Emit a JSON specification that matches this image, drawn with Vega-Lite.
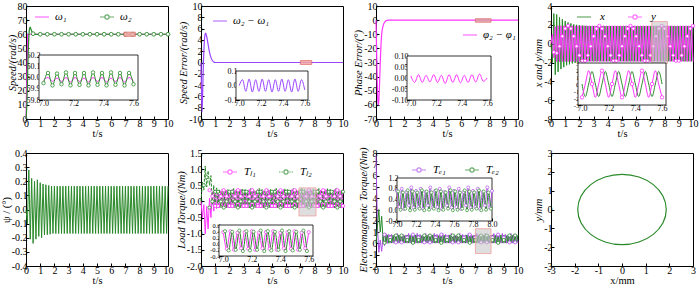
{
"$schema": "https://vega.github.io/schema/vega-lite/v6.json",
"background": "white",
"padding": {"left": 0, "top": 0, "right": 0, "bottom": 0},
"columns": 4,
"spacing": {"row": 34, "column": 33},
"bounds": "flush",
"resolve": {"scale": {"color": "independent", "shape": "independent"}},
"datasets": {
"hl": [{"p":1,"x0":6.9,"x1":7.7,"y0":58.5,"y1":61.5},{"p":2,"x0":7,"x1":7.8,"y0":-0.35,"y1":0.35},{"p":3,"x0":7,"x1":8.1,"y0":-1.5,"y1":1},{"p":4,"x0":7.1,"x1":8.2,"y0":-2.1,"y1":2.35},{"p":6,"x0":6.9,"x1":8.1,"y0":-0.45,"y1":0.42},{"p":7,"x0":7,"x1":8.1,"y0":-0.9,"y1":1.3}],
"fr": [{"p":1,"x0":6.97,"x1":7.63,"y0":59.8,"y1":60.2},{"p":2,"x0":6.97,"x1":7.63,"y0":-0.1,"y1":0.1},{"p":3,"x0":6.97,"x1":7.63,"y0":-0.1,"y1":0.1},{"p":4,"x0":6.97,"x1":7.63,"y0":-3,"y1":3},{"p":6,"x0":6.97,"x1":7.63,"y0":-0.4,"y1":0.6},{"p":7,"x0":7,"x1":8,"y0":-0.4,"y1":1.2}],
"p1a": [{"t":0,"v":0},{"t":0.12,"v":60},{"t":10,"v":60}],
"p1b": [{"t":0,"v":0},{"t":0.05,"v":8},{"t":0.1,"v":25},{"t":0.15,"v":45},{"t":0.2,"v":58},{"t":0.25,"v":64},{"t":0.3,"v":65},{"t":0.35,"v":63.5},{"t":0.45,"v":61.2},{"t":0.55,"v":60.3},{"t":0.7,"v":59.9},{"t":0.9,"v":60},{"t":10,"v":60}],
"p1m": [{"t":0.5,"v":60.4},{"t":1,"v":60},{"t":1.5,"v":60},{"t":2,"v":60},{"t":2.5,"v":60},{"t":3,"v":60},{"t":3.5,"v":60},{"t":4,"v":60},{"t":4.5,"v":60},{"t":5,"v":60},{"t":5.5,"v":60},{"t":6,"v":60},{"t":6.5,"v":60},{"t":7,"v":60},{"t":7.5,"v":60},{"t":8,"v":60},{"t":8.5,"v":60},{"t":9,"v":60},{"t":9.5,"v":60},{"t":10,"v":60}],
"p2": [{"t":0,"v":0},{"t":0.03,"v":-4},{"t":0.07,"v":-8.8},{"t":0.11,"v":-6},{"t":0.16,"v":-1},{"t":0.22,"v":3},{"t":0.28,"v":4.9},{"t":0.33,"v":5.2},{"t":0.4,"v":4.6},{"t":0.5,"v":3.2},{"t":0.6,"v":1.8},{"t":0.7,"v":0.9},{"t":0.8,"v":0.35},{"t":0.9,"v":0.1},{"t":1,"v":0},{"t":10,"v":0}],
"p3": [{"t":0,"v":0},{"t":0.04,"v":-20},{"t":0.08,"v":-42},{"t":0.12,"v":-55},{"t":0.16,"v":-60},{"t":0.2,"v":-57},{"t":0.25,"v":-45},{"t":0.3,"v":-30},{"t":0.35,"v":-18},{"t":0.4,"v":-10},{"t":0.5,"v":-4},{"t":0.6,"v":-1.5},{"t":0.7,"v":-0.5},{"t":0.85,"v":0},{"t":10,"v":0}],
"S": [
{"t":7.00,"g":59.95,"m":59.975,"e":0,"f":0.01},
{"t":7.03,"g":60.04,"m":60.0,"e":0.04,"f":-0.02},
{"t":7.06,"g":59.93,"m":59.965,"e":-0.04,"f":0.015},
{"t":7.09,"g":60.035,"m":59.995,"e":0.045,"f":-0.02},
{"t":7.12,"g":59.94,"m":59.965,"e":-0.045,"f":0.012},
{"t":7.15,"g":60.045,"m":60.0,"e":0.04,"f":-0.018},
{"t":7.18,"g":59.93,"m":59.96,"e":-0.04,"f":0.015},
{"t":7.21,"g":60.04,"m":60.0,"e":0.045,"f":-0.02},
{"t":7.24,"g":59.935,"m":59.965,"e":-0.04,"f":0.012},
{"t":7.27,"g":60.04,"m":59.995,"e":0.04,"f":-0.025},
{"t":7.30,"g":59.93,"m":59.96,"e":-0.045,"f":0.015},
{"t":7.33,"g":60.045,"m":60.0,"e":0.04,"f":-0.02},
{"t":7.36,"g":59.935,"m":59.965,"e":-0.04,"f":0.015},
{"t":7.39,"g":60.04,"m":60.0,"e":0.045,"f":-0.022},
{"t":7.42,"g":59.93,"m":59.96,"e":-0.04,"f":0.012},
{"t":7.45,"g":60.045,"m":59.995,"e":0.04,"f":-0.02},
{"t":7.48,"g":59.935,"m":59.965,"e":-0.045,"f":0.015},
{"t":7.51,"g":60.04,"m":60.0,"e":0.045,"f":-0.018},
{"t":7.54,"g":59.93,"m":59.96,"e":-0.04,"f":0.018},
{"t":7.57,"g":60.04,"m":60.0,"e":0.04,"f":-0.015},
{"t":7.60,"g":59.94,"m":59.965,"e":-0.03,"f":0}],
"D": [
{"t":0,"x":0,"y":0,"p":0,"a":0,"b":0,"c":7.8,"d":0},
{"t":0.1,"x":-2,"y":1,"p":-0.1,"a":-0.5,"b":0.6,"c":1.5,"d":1.5},
{"t":0.2,"x":3.2,"y":-1.5,"p":0.28,"a":-0.1,"b":0.35,"c":-0.8,"d":3},
{"t":0.3,"x":-3.3,"y":1.8,"p":-0.21,"a":-1,"b":1.1,"c":0.3,"d":1},
{"t":0.4,"x":3.1,"y":-1.9,"p":0.22,"a":-0.15,"b":0.45,"c":-0.7,"d":2.4},
{"t":0.5,"x":-3,"y":1.9,"p":-0.24,"a":-0.85,"b":0.95,"c":0.6,"d":0.2},
{"t":0.6,"x":2.8,"y":-1.9,"p":0.2,"a":0.1,"b":0.5,"c":-0.2,"d":0.9},
{"t":0.7,"x":-2.7,"y":1.9,"p":-0.21,"a":-0.5,"b":0.8,"c":0.85,"d":0.05},
{"t":0.8,"x":2.6,"y":-1.9,"p":0.21,"a":0.3,"b":-0.1,"c":0,"d":0.75},
{"t":0.9,"x":-2.5,"y":1.9,"p":-0.19,"a":-0.3,"b":0.5,"c":0.8,"d":0.02},
{"t":1,"x":2.4,"y":-1.9,"p":0.19,"a":0.36,"b":-0.18,"c":0.02,"d":0.72},
{"t":1.1,"x":-2.3,"y":1.9,"p":-0.2,"a":-0.22,"b":0.42,"c":0.8,"d":0.03},
{"t":1.2,"x":2.25,"y":-1.9,"p":0.18,"a":0.35,"b":-0.2,"c":0.02,"d":0.72},
{"t":1.3,"x":-2.2,"y":1.9,"p":-0.18,"a":-0.2,"b":0.38,"c":0.78,"d":0.03},
{"t":1.4,"x":2.15,"y":-1.9,"p":0.175,"a":0.33,"b":-0.2,"c":0.02,"d":0.68},
{"t":1.5,"x":-2.1,"y":1.9,"p":-0.178,"a":-0.2,"b":0.37,"c":0.88,"d":0.03},
{"t":1.6,"x":2.05,"y":-1.9,"p":0.17,"a":0.37,"b":-0.2,"c":0.02,"d":0.75},
{"t":1.7,"x":-2.05,"y":1.9,"p":-0.175,"a":-0.2,"b":0.34,"c":0.75,"d":0.03},
{"t":1.8,"x":2,"y":-1.9,"p":0.165,"a":0.35,"b":-0.2,"c":0.02,"d":0.72},
{"t":1.9,"x":-2,"y":1.9,"p":-0.17,"a":-0.2,"b":0.37,"c":0.8,"d":0.03},
{"t":2,"x":1.95,"y":-1.9,"p":0.165,"a":0.33,"b":-0.2,"c":0.02,"d":0.68},
{"t":2.1,"x":-1.95,"y":1.9,"p":-0.17,"a":-0.2,"b":0.34,"c":0.75,"d":0.03},
{"t":2.2,"x":1.92,"y":-1.9,"p":0.165,"a":0.37,"b":-0.2,"c":0.02,"d":0.75},
{"t":2.3,"x":-1.92,"y":1.9,"p":-0.17,"a":-0.2,"b":0.4,"c":0.88,"d":0.03},
{"t":2.4,"x":1.9,"y":-1.9,"p":0.165,"a":0.35,"b":-0.2,"c":0.02,"d":0.72},
{"t":2.5,"x":-1.9,"y":1.9,"p":-0.17,"a":-0.2,"b":0.37,"c":0.8,"d":0.03},
{"t":2.6,"x":1.87,"y":-1.9,"p":0.165,"a":0.33,"b":-0.2,"c":0.02,"d":0.68},
{"t":2.7,"x":-1.87,"y":1.9,"p":-0.17,"a":-0.2,"b":0.34,"c":0.75,"d":0.03},
{"t":2.8,"x":1.87,"y":-1.9,"p":0.165,"a":0.37,"b":-0.2,"c":0.02,"d":0.75},
{"t":2.9,"x":-1.87,"y":1.9,"p":-0.17,"a":-0.2,"b":0.4,"c":0.88,"d":0.03},
{"t":3,"x":1.87,"y":-1.9,"p":0.165,"a":0.35,"b":-0.2,"c":0.02,"d":0.72},
{"t":3.1,"x":-1.87,"y":1.9,"p":-0.17,"a":-0.2,"b":0.37,"c":0.8,"d":0.03},
{"t":3.2,"x":1.87,"y":-1.9,"p":0.165,"a":0.33,"b":-0.2,"c":0.02,"d":0.68},
{"t":3.3,"x":-1.87,"y":1.9,"p":-0.17,"a":-0.2,"b":0.34,"c":0.75,"d":0.03},
{"t":3.4,"x":1.87,"y":-1.9,"p":0.165,"a":0.37,"b":-0.2,"c":0.02,"d":0.75},
{"t":3.5,"x":-1.87,"y":1.9,"p":-0.17,"a":-0.2,"b":0.4,"c":0.88,"d":0.03},
{"t":3.6,"x":1.87,"y":-1.9,"p":0.165,"a":0.35,"b":-0.2,"c":0.02,"d":0.72},
{"t":3.7,"x":-1.87,"y":1.9,"p":-0.17,"a":-0.2,"b":0.37,"c":0.8,"d":0.03},
{"t":3.8,"x":1.87,"y":-1.9,"p":0.165,"a":0.33,"b":-0.2,"c":0.02,"d":0.68},
{"t":3.9,"x":-1.87,"y":1.9,"p":-0.17,"a":-0.2,"b":0.34,"c":0.75,"d":0.03},
{"t":4,"x":1.87,"y":-1.9,"p":0.165,"a":0.37,"b":-0.2,"c":0.02,"d":0.75},
{"t":4.1,"x":-1.87,"y":1.9,"p":-0.17,"a":-0.2,"b":0.4,"c":0.88,"d":0.03},
{"t":4.2,"x":1.87,"y":-1.9,"p":0.165,"a":0.35,"b":-0.2,"c":0.02,"d":0.72},
{"t":4.3,"x":-1.87,"y":1.9,"p":-0.17,"a":-0.2,"b":0.37,"c":0.8,"d":0.03},
{"t":4.4,"x":1.87,"y":-1.9,"p":0.165,"a":0.33,"b":-0.2,"c":0.02,"d":0.68},
{"t":4.5,"x":-1.87,"y":1.9,"p":-0.17,"a":-0.2,"b":0.34,"c":0.75,"d":0.03},
{"t":4.6,"x":1.87,"y":-1.9,"p":0.165,"a":0.37,"b":-0.2,"c":0.02,"d":0.75},
{"t":4.7,"x":-1.87,"y":1.9,"p":-0.17,"a":-0.2,"b":0.4,"c":0.88,"d":0.03},
{"t":4.8,"x":1.87,"y":-1.9,"p":0.165,"a":0.35,"b":-0.2,"c":0.02,"d":0.72},
{"t":4.9,"x":-1.87,"y":1.9,"p":-0.17,"a":-0.2,"b":0.37,"c":0.8,"d":0.03},
{"t":5,"x":1.87,"y":-1.9,"p":0.165,"a":0.33,"b":-0.2,"c":0.02,"d":0.68},
{"t":5.1,"x":-1.87,"y":1.9,"p":-0.17,"a":-0.2,"b":0.34,"c":0.75,"d":0.03},
{"t":5.2,"x":1.87,"y":-1.9,"p":0.165,"a":0.37,"b":-0.2,"c":0.02,"d":0.75},
{"t":5.3,"x":-1.87,"y":1.9,"p":-0.17,"a":-0.2,"b":0.4,"c":0.88,"d":0.03},
{"t":5.4,"x":1.87,"y":-1.9,"p":0.165,"a":0.35,"b":-0.2,"c":0.02,"d":0.72},
{"t":5.5,"x":-1.87,"y":1.9,"p":-0.17,"a":-0.2,"b":0.37,"c":0.8,"d":0.03},
{"t":5.6,"x":1.87,"y":-1.9,"p":0.165,"a":0.33,"b":-0.2,"c":0.02,"d":0.68},
{"t":5.7,"x":-1.87,"y":1.9,"p":-0.17,"a":-0.2,"b":0.34,"c":0.75,"d":0.03},
{"t":5.8,"x":1.87,"y":-1.9,"p":0.165,"a":0.37,"b":-0.2,"c":0.02,"d":0.75},
{"t":5.9,"x":-1.87,"y":1.9,"p":-0.17,"a":-0.2,"b":0.4,"c":0.88,"d":0.03},
{"t":6,"x":1.87,"y":-1.9,"p":0.165,"a":0.35,"b":-0.2,"c":0.02,"d":0.72},
{"t":6.1,"x":-1.87,"y":1.9,"p":-0.17,"a":-0.2,"b":0.37,"c":0.8,"d":0.03},
{"t":6.2,"x":1.87,"y":-1.9,"p":0.165,"a":0.33,"b":-0.2,"c":0.02,"d":0.68},
{"t":6.3,"x":-1.87,"y":1.9,"p":-0.17,"a":-0.2,"b":0.34,"c":0.75,"d":0.03},
{"t":6.4,"x":1.87,"y":-1.9,"p":0.165,"a":0.37,"b":-0.2,"c":0.02,"d":0.75},
{"t":6.5,"x":-1.87,"y":1.9,"p":-0.17,"a":-0.2,"b":0.4,"c":0.88,"d":0.03},
{"t":6.6,"x":1.87,"y":-1.9,"p":0.165,"a":0.35,"b":-0.2,"c":0.02,"d":0.72},
{"t":6.7,"x":-1.87,"y":1.9,"p":-0.17,"a":-0.2,"b":0.37,"c":0.8,"d":0.03},
{"t":6.8,"x":1.87,"y":-1.9,"p":0.165,"a":0.33,"b":-0.2,"c":0.02,"d":0.68},
{"t":6.9,"x":-1.87,"y":1.9,"p":-0.17,"a":-0.2,"b":0.34,"c":0.75,"d":0.03},
{"t":7,"x":1.87,"y":-1.9,"p":0.165,"a":0.37,"b":-0.2,"c":0.02,"d":0.75},
{"t":7.1,"x":-1.87,"y":1.9,"p":-0.17,"a":-0.2,"b":0.4,"c":0.88,"d":0.03},
{"t":7.2,"x":1.87,"y":-1.9,"p":0.165,"a":0.35,"b":-0.2,"c":0.02,"d":0.72},
{"t":7.3,"x":-1.87,"y":1.9,"p":-0.17,"a":-0.2,"b":0.37,"c":0.8,"d":0.03},
{"t":7.4,"x":1.87,"y":-1.9,"p":0.165,"a":0.33,"b":-0.2,"c":0.02,"d":0.68},
{"t":7.5,"x":-1.87,"y":1.9,"p":-0.17,"a":-0.2,"b":0.34,"c":0.75,"d":0.03},
{"t":7.6,"x":1.87,"y":-1.9,"p":0.165,"a":0.37,"b":-0.2,"c":0.02,"d":0.75},
{"t":7.7,"x":-1.87,"y":1.9,"p":-0.17,"a":-0.2,"b":0.4,"c":0.88,"d":0.03},
{"t":7.8,"x":1.87,"y":-1.9,"p":0.165,"a":0.35,"b":-0.2,"c":0.02,"d":0.72},
{"t":7.9,"x":-1.87,"y":1.9,"p":-0.17,"a":-0.2,"b":0.37,"c":0.8,"d":0.03},
{"t":8,"x":1.87,"y":-1.9,"p":0.165,"a":0.33,"b":-0.2,"c":0.02,"d":0.68},
{"t":8.1,"x":-1.87,"y":1.9,"p":-0.17,"a":-0.2,"b":0.34,"c":0.75,"d":0.03},
{"t":8.2,"x":1.87,"y":-1.9,"p":0.165,"a":0.37,"b":-0.2,"c":0.02,"d":0.75},
{"t":8.3,"x":-1.87,"y":1.9,"p":-0.17,"a":-0.2,"b":0.4,"c":0.88,"d":0.03},
{"t":8.4,"x":1.87,"y":-1.9,"p":0.165,"a":0.35,"b":-0.2,"c":0.02,"d":0.72},
{"t":8.5,"x":-1.87,"y":1.9,"p":-0.17,"a":-0.2,"b":0.37,"c":0.8,"d":0.03},
{"t":8.6,"x":1.87,"y":-1.9,"p":0.165,"a":0.33,"b":-0.2,"c":0.02,"d":0.68},
{"t":8.7,"x":-1.87,"y":1.9,"p":-0.17,"a":-0.2,"b":0.34,"c":0.75,"d":0.03},
{"t":8.8,"x":1.87,"y":-1.9,"p":0.165,"a":0.37,"b":-0.2,"c":0.02,"d":0.75},
{"t":8.9,"x":-1.87,"y":1.9,"p":-0.17,"a":-0.2,"b":0.4,"c":0.88,"d":0.03},
{"t":9,"x":1.87,"y":-1.9,"p":0.165,"a":0.35,"b":-0.2,"c":0.02,"d":0.72},
{"t":9.1,"x":-1.87,"y":1.9,"p":-0.17,"a":-0.2,"b":0.37,"c":0.8,"d":0.03},
{"t":9.2,"x":1.87,"y":-1.9,"p":0.165,"a":0.33,"b":-0.2,"c":0.02,"d":0.68},
{"t":9.3,"x":-1.87,"y":1.9,"p":-0.17,"a":-0.2,"b":0.34,"c":0.75,"d":0.03},
{"t":9.4,"x":1.87,"y":-1.9,"p":0.165,"a":0.37,"b":-0.2,"c":0.02,"d":0.75},
{"t":9.5,"x":-1.87,"y":1.9,"p":-0.17,"a":-0.2,"b":0.4,"c":0.88,"d":0.03},
{"t":9.6,"x":1.87,"y":-1.9,"p":0.165,"a":0.35,"b":-0.2,"c":0.02,"d":0.72},
{"t":9.7,"x":-1.87,"y":1.9,"p":-0.17,"a":-0.2,"b":0.37,"c":0.8,"d":0.03},
{"t":9.8,"x":1.87,"y":-1.9,"p":0.165,"a":0.33,"b":-0.2,"c":0.02,"d":0.68},
{"t":9.9,"x":-1.87,"y":1.9,"p":-0.17,"a":-0.2,"b":0.34,"c":0.75,"d":0.03},
{"t":10,"x":1.87,"y":-1.9,"p":0.165,"a":0.37,"b":-0.2,"c":0.02,"d":0.75}],
"m4": [{"t":0.2,"v":-0.9},{"t":0.4,"v":-1.0},{"t":0.6,"v":-0.27},{"t":0.8,"v":0.79},{"t":1,"v":1.6},{"t":1.2,"v":1.9},{"t":1.4,"v":1.6},{"t":1.6,"v":0.79},{"t":1.8,"v":-0.27},{"t":2,"v":-1.24},{"t":2.2,"v":-1.82},{"t":2.4,"v":-1.82},{"t":2.6,"v":-1.24},{"t":2.8,"v":-0.27},{"t":3,"v":0.79},{"t":3.2,"v":1.6},{"t":3.4,"v":1.9},{"t":3.6,"v":1.6},{"t":3.8,"v":0.79},{"t":4,"v":-0.27},{"t":4.2,"v":-1.24},{"t":4.4,"v":-1.82},{"t":4.6,"v":-1.82},{"t":4.8,"v":-1.24},{"t":5,"v":-0.27},{"t":5.2,"v":0.79},{"t":5.4,"v":1.6},{"t":5.6,"v":1.9},{"t":5.8,"v":1.6},{"t":6,"v":0.79},{"t":6.2,"v":-0.27},{"t":6.4,"v":-1.24},{"t":6.6,"v":-1.82},{"t":6.8,"v":-1.82},{"t":7,"v":-1.24},{"t":7.2,"v":-0.27},{"t":7.4,"v":0.79},{"t":7.6,"v":1.6},{"t":7.8,"v":1.9},{"t":8,"v":1.6},{"t":8.2,"v":0.79},{"t":8.4,"v":-0.27},{"t":8.6,"v":-1.24},{"t":8.8,"v":-1.82},{"t":9,"v":-1.82},{"t":9.2,"v":-1.24},{"t":9.4,"v":-0.27},{"t":9.6,"v":0.79},{"t":9.8,"v":1.6},{"t":10,"v":1.9}],
"m6": [{"t":0.2,"b":0.5},{"t":0.4,"b":0.75},
{"t":0.6,"a":0.35,"b":-0.19},{"t":0.8,"a":0.16,"b":0},{"t":1,"a":-0.14,"b":0.3},{"t":1.2,"a":-0.14,"b":0.3},{"t":1.4,"a":0.16,"b":0},
{"t":1.6,"a":0.35,"b":-0.19},{"t":1.8,"a":0.16,"b":0},{"t":2,"a":-0.14,"b":0.3},{"t":2.2,"a":-0.14,"b":0.3},{"t":2.4,"a":0.16,"b":0},
{"t":2.6,"a":0.35,"b":-0.19},{"t":2.8,"a":0.16,"b":0},{"t":3,"a":-0.14,"b":0.3},{"t":3.2,"a":-0.14,"b":0.3},{"t":3.4,"a":0.16,"b":0},
{"t":3.6,"a":0.35,"b":-0.19},{"t":3.8,"a":0.16,"b":0},{"t":4,"a":-0.14,"b":0.3},{"t":4.2,"a":-0.14,"b":0.3},{"t":4.4,"a":0.16,"b":0},
{"t":4.6,"a":0.35,"b":-0.19},{"t":4.8,"a":0.16,"b":0},{"t":5,"a":-0.14,"b":0.3},{"t":5.2,"a":-0.14,"b":0.3},{"t":5.4,"a":0.16,"b":0},
{"t":5.6,"a":0.35,"b":-0.19},{"t":5.8,"a":0.16,"b":0},{"t":6,"a":-0.14,"b":0.3},{"t":6.2,"a":-0.14,"b":0.3},{"t":6.4,"a":0.16,"b":0},
{"t":6.6,"a":0.35,"b":-0.19},{"t":6.8,"a":0.16,"b":0},{"t":7,"a":-0.14,"b":0.3},{"t":7.2,"a":-0.14,"b":0.3},{"t":7.4,"a":0.16,"b":0},
{"t":7.6,"a":0.35,"b":-0.19},{"t":7.8,"a":0.16,"b":0},{"t":8,"a":-0.14,"b":0.3},{"t":8.2,"a":-0.14,"b":0.3},{"t":8.4,"a":0.16,"b":0},
{"t":8.6,"a":0.35,"b":-0.19},{"t":8.8,"a":0.16,"b":0},{"t":9,"a":-0.14,"b":0.3},{"t":9.2,"a":-0.14,"b":0.3},{"t":9.4,"a":0.16,"b":0},
{"t":9.6,"a":0.35,"b":-0.19},{"t":9.8,"a":0.16,"b":0},{"t":10,"a":-0.14,"b":0.3}],
"m7": [{"t":0.6,"a":0.78,"b":0.05},{"t":1,"a":0.52,"b":0.3},{"t":1.4,"a":0.09,"b":0.7},{"t":1.8,"a":0.09,"b":0.7},{"t":2.2,"a":0.52,"b":0.3},
{"t":2.6,"a":0.78,"b":0.05},{"t":3,"a":0.52,"b":0.3},{"t":3.4,"a":0.09,"b":0.7},{"t":3.8,"a":0.09,"b":0.7},{"t":4.2,"a":0.52,"b":0.3},
{"t":4.6,"a":0.78,"b":0.05},{"t":5,"a":0.52,"b":0.3},{"t":5.4,"a":0.09,"b":0.7},{"t":5.8,"a":0.09,"b":0.7},{"t":6.2,"a":0.52,"b":0.3},
{"t":6.6,"a":0.78,"b":0.05},{"t":7,"a":0.52,"b":0.3},{"t":7.4,"a":0.09,"b":0.7},{"t":7.8,"a":0.09,"b":0.7},{"t":8.2,"a":0.52,"b":0.3},
{"t":8.6,"a":0.78,"b":0.05},{"t":9,"a":0.52,"b":0.3},{"t":9.4,"a":0.09,"b":0.7},{"t":9.8,"a":0.09,"b":0.7}],
"i4": [{"t":7,"g":0,"m":-1.9,"n":-1.9},{"t":7.025,"g":-1.8,"m":0},{"t":7.05,"g":0,"m":1.9},{"t":7.075,"g":1.8,"m":0,"n":0},{"t":7.1,"g":0,"m":-1.9},{"t":7.125,"g":-1.8,"m":0},{"t":7.15,"g":0,"m":1.9,"n":1.9},{"t":7.175,"g":1.8,"m":0},{"t":7.2,"g":0,"m":-1.9},{"t":7.225,"g":-1.8,"m":0,"n":0},{"t":7.25,"g":0,"m":1.9},{"t":7.275,"g":1.8,"m":0},{"t":7.3,"g":0,"m":-1.9,"n":-1.9},{"t":7.325,"g":-1.8,"m":0},{"t":7.35,"g":0,"m":1.9},{"t":7.375,"g":1.8,"m":0,"n":0},{"t":7.4,"g":0,"m":-1.9},{"t":7.425,"g":-1.8,"m":0},{"t":7.45,"g":0,"m":1.9,"n":1.9},{"t":7.475,"g":1.8,"m":0},{"t":7.5,"g":0,"m":-1.9},{"t":7.525,"g":-1.8,"m":0,"n":0},{"t":7.55,"g":0,"m":1.9},{"t":7.575,"g":1.8,"m":0},{"t":7.6,"g":0,"m":-1.9,"n":-1.9}],
"i6a": [{"t":7,"v":0.37},{"t":7.025,"v":-0.17},{"t":7.05,"v":0.4},{"t":7.075,"v":-0.2},{"t":7.1,"v":0.35},{"t":7.125,"v":-0.15},{"t":7.15,"v":0.37},{"t":7.175,"v":-0.17},{"t":7.2,"v":0.4},{"t":7.225,"v":-0.2},{"t":7.25,"v":0.35},{"t":7.275,"v":-0.15},{"t":7.3,"v":0.37},{"t":7.325,"v":-0.17},{"t":7.35,"v":0.4},{"t":7.375,"v":-0.2},{"t":7.4,"v":0.35},{"t":7.425,"v":-0.15},{"t":7.45,"v":0.37},{"t":7.475,"v":-0.17},{"t":7.5,"v":0.4},{"t":7.525,"v":-0.2},{"t":7.55,"v":0.35},{"t":7.575,"v":-0.15},{"t":7.6,"v":0.37}],
"i6b": [{"t":7.0125,"v":0.4},{"t":7.0375,"v":-0.22},{"t":7.0625,"v":0.38},{"t":7.0875,"v":-0.2},{"t":7.1125,"v":0.42},{"t":7.1375,"v":-0.24},{"t":7.1625,"v":0.4},{"t":7.1875,"v":-0.22},{"t":7.2125,"v":0.38},{"t":7.2375,"v":-0.2},{"t":7.2625,"v":0.42},{"t":7.2875,"v":-0.24},{"t":7.3125,"v":0.4},{"t":7.3375,"v":-0.22},{"t":7.3625,"v":0.38},{"t":7.3875,"v":-0.2},{"t":7.4125,"v":0.42},{"t":7.4375,"v":-0.24},{"t":7.4625,"v":0.4},{"t":7.4875,"v":-0.22},{"t":7.5125,"v":0.38},{"t":7.5375,"v":-0.2},{"t":7.5625,"v":0.42},{"t":7.5875,"v":-0.24}],
"i7a": [{"t":7,"v":0.72},{"t":7.025,"v":0.12},{"t":7.05,"v":0.8},{"t":7.075,"v":0.05},{"t":7.1,"v":0.68},{"t":7.125,"v":0.18},{"t":7.15,"v":0.85},{"t":7.175,"v":0.1},{"t":7.2,"v":0.72},{"t":7.225,"v":0.12},{"t":7.25,"v":0.8},{"t":7.275,"v":0.05},{"t":7.3,"v":0.68},{"t":7.325,"v":0.18},{"t":7.35,"v":0.85},{"t":7.375,"v":0.1},{"t":7.4,"v":0.72},{"t":7.425,"v":0.12},{"t":7.45,"v":0.8},{"t":7.475,"v":0.05},{"t":7.5,"v":0.68},{"t":7.525,"v":0.18},{"t":7.55,"v":0.85},{"t":7.575,"v":0.1},{"t":7.6,"v":0.72},{"t":7.625,"v":0.12},{"t":7.65,"v":0.8},{"t":7.675,"v":0.05},{"t":7.7,"v":0.68},{"t":7.725,"v":0.18},{"t":7.75,"v":0.85},{"t":7.775,"v":0.1},{"t":7.8,"v":0.72},{"t":7.825,"v":0.12},{"t":7.85,"v":0.8},{"t":7.875,"v":0.05},{"t":7.9,"v":0.68},{"t":7.925,"v":0.18},{"t":7.95,"v":0.85},{"t":7.975,"v":0.1},{"t":8,"v":0.72}],
"i7b": [{"t":7.0125,"v":0.7},{"t":7.0375,"v":0.02},{"t":7.0625,"v":0.66},{"t":7.0875,"v":0.06},{"t":7.1125,"v":0.74},{"t":7.1375,"v":0},{"t":7.1625,"v":0.7},{"t":7.1875,"v":0.02},{"t":7.2125,"v":0.66},{"t":7.2375,"v":0.06},{"t":7.2625,"v":0.74},{"t":7.2875,"v":0},{"t":7.3125,"v":0.7},{"t":7.3375,"v":0.02},{"t":7.3625,"v":0.66},{"t":7.3875,"v":0.06},{"t":7.4125,"v":0.74},{"t":7.4375,"v":0},{"t":7.4625,"v":0.7},{"t":7.4875,"v":0.02},{"t":7.5125,"v":0.66},{"t":7.5375,"v":0.06},{"t":7.5625,"v":0.74},{"t":7.5875,"v":0},{"t":7.6125,"v":0.7},{"t":7.6375,"v":0.02},{"t":7.6625,"v":0.66},{"t":7.6875,"v":0.06},{"t":7.7125,"v":0.74},{"t":7.7375,"v":0},{"t":7.7625,"v":0.7},{"t":7.7875,"v":0.02},{"t":7.8125,"v":0.66},{"t":7.8375,"v":0.06},{"t":7.8625,"v":0.74},{"t":7.8875,"v":0},{"t":7.9125,"v":0.7},{"t":7.9375,"v":0.02},{"t":7.9625,"v":0.66},{"t":7.9875,"v":0.06}],
"c8": [{"o":0,"x":1.87,"y":0},{"o":1,"x":1.728,"y":0.716},{"o":2,"x":1.322,"y":1.322},{"o":3,"x":0.716,"y":1.728},{"o":4,"x":0,"y":1.87},{"o":5,"x":-0.716,"y":1.728},{"o":6,"x":-1.322,"y":1.322},{"o":7,"x":-1.728,"y":0.716},{"o":8,"x":-1.87,"y":0},{"o":9,"x":-1.728,"y":-0.716},{"o":10,"x":-1.322,"y":-1.322},{"o":11,"x":-0.716,"y":-1.728},{"o":12,"x":0,"y":-1.87},{"o":13,"x":0.716,"y":-1.728},{"o":14,"x":1.322,"y":-1.322},{"o":15,"x":1.728,"y":-0.716}]
},
"concat": [
{"width":142,"height":113,"resolve":{"scale":{"x":"independent","y":"independent"}},"layer":[
 {"encoding":{
   "x":{"field":"t","type":"quantitative","scale":{"domain":[0,10],"nice":false,"zero":false},"axis":{"title":"t/s","orient":"bottom","values":[0,1,2,3,4,5,6,7,8,9,10],"format":"d"}},
   "y":{"field":"v","type":"quantitative","scale":{"domain":[0,80],"nice":false,"zero":false},"axis":{"title":"Speed/(rad/s)","orient":"left","values":[0,10,20,30,40,50,60,70,80],"format":"d"}}},
  "layer":[
   {"data":{"name":"p1a"},"mark":{"type":"line","color":"#ff33ff","strokeWidth":1.2}},
   {"data":{"name":"p1b"},"mark":{"type":"line","color":"#2a8a2a","strokeWidth":1.2,"interpolate":"monotone"}},
   {"data":{"name":"p1m"},"mark":{"type":"point","shape":"circle","size":14,"filled":true,"fill":"#ffffff","stroke":"#2a8a2a","strokeWidth":0.9,"opacity":1}},
   {"data":{"name":"hl"},"transform":[{"filter":"datum.p==1"}],"mark":{"type":"rect","fill":"#f2a6a6","stroke":"#e06060","strokeWidth":0.8,"opacity":0.85},"encoding":{"x":{"field":"x0","type":"quantitative"},"x2":{"field":"x1"},"y":{"field":"y0","type":"quantitative"},"y2":{"field":"y1"}}},
   {"data":{"values":[]},"mark":{"type":"point","filled":false},"encoding":{
     "color":{"field":"s","type":"nominal","scale":{"domain":["ω₁","ω₂"],"range":["#ff33ff","#2a8a2a"]},"legend":{"title":null,"orient":"none","legendX":8,"legendY":3,"direction":"horizontal","symbolSize":196,"symbolStrokeWidth":1.2,"labelFont":"Liberation Serif","labelFontSize":11,"labelFontStyle":"italic","labelOffset":5,"columnPadding":30,"padding":0}},
     "shape":{"field":"s","type":"nominal","scale":{"domain":["ω₁","ω₂"],"range":["M-1,0L1,0","M-1,0L-0.3,0M0.3,0A0.3,0.3 0 1 1 -0.3,0A0.3,0.3 0 1 1 0.3,0M0.3,0L1,0"]},"legend":{"title":null,"orient":"none","legendX":8,"legendY":3,"direction":"horizontal","symbolSize":196,"symbolStrokeWidth":1.2,"labelFont":"Liberation Serif","labelFontSize":11,"labelFontStyle":"italic","labelOffset":5,"columnPadding":30,"padding":0}}}}
  ]},
 {"encoding":{
   "x":{"field":"t","type":"quantitative","scale":{"domain":[6.97,7.63],"range":[13,112],"nice":false,"zero":false},"axis":{"title":null,"orient":"bottom","offset":-19,"values":[7,7.2,7.4,7.6],"format":".1f","labelFontSize":8}},
   "y":{"field":"g","type":"quantitative","scale":{"domain":[59.8,60.2],"range":[94,49],"nice":false,"zero":false},"axis":{"title":null,"orient":"left","offset":-13,"values":[59.8,59.9,60,60.1,60.2],"format":".1f","labelFontSize":8}}},
  "layer":[
   {"data":{"name":"fr"},"transform":[{"filter":"datum.p==1"}],"mark":{"type":"rect","fill":"#ffffff","stroke":"#000000","strokeWidth":0.8},"encoding":{"x":{"field":"x0","type":"quantitative"},"x2":{"field":"x1"},"y":{"field":"y0","type":"quantitative"},"y2":{"field":"y1"}}},
   {"data":{"name":"S"},"mark":{"type":"line","color":"#ff33ff","interpolate":"monotone","strokeWidth":1},"encoding":{"y":{"field":"m","type":"quantitative"}}},
   {"data":{"name":"S"},"mark":{"type":"line","color":"#2a8a2a","interpolate":"monotone","strokeWidth":1}},
   {"data":{"name":"S"},"mark":{"type":"point","shape":"circle","size":12,"filled":true,"fill":"#ffffff","stroke":"#2a8a2a","strokeWidth":0.8,"opacity":1}}
  ]}
]},
{"width":142,"height":113,"resolve":{"scale":{"x":"independent","y":"independent"}},"layer":[
 {"encoding":{
   "x":{"field":"t","type":"quantitative","scale":{"domain":[0,10],"nice":false,"zero":false},"axis":{"title":"t/s","orient":"bottom","values":[0,1,2,3,4,5,6,7,8,9,10],"format":"d"}},
   "y":{"field":"v","type":"quantitative","scale":{"domain":[-10,10],"nice":false,"zero":false},"axis":{"title":"Speed Error/(rad/s)","orient":"left","values":[-10,-8,-6,-4,-2,0,2,4,6,8,10],"format":"d"}}},
  "layer":[
   {"data":{"name":"p2"},"mark":{"type":"line","color":"#9a45ff","strokeWidth":1.2,"interpolate":"monotone"}},
   {"data":{"name":"hl"},"transform":[{"filter":"datum.p==2"}],"mark":{"type":"rect","fill":"#f2a6a6","stroke":"#e06060","strokeWidth":0.8,"opacity":0.85},"encoding":{"x":{"field":"x0","type":"quantitative"},"x2":{"field":"x1"},"y":{"field":"y0","type":"quantitative"},"y2":{"field":"y1"}}},
   {"data":{"values":[]},"mark":{"type":"point","filled":false},"encoding":{
     "color":{"field":"s","type":"nominal","scale":{"domain":["ω₂ − ω₁"],"range":["#9a45ff"]},"legend":{"title":null,"orient":"none","legendX":11,"legendY":7,"direction":"horizontal","symbolSize":196,"symbolStrokeWidth":1.2,"labelFont":"Liberation Serif","labelFontSize":11,"labelFontStyle":"italic","labelOffset":5,"padding":0}},
     "shape":{"field":"s","type":"nominal","scale":{"domain":["ω₂ − ω₁"],"range":["M-1,0L1,0"]},"legend":{"title":null,"orient":"none","legendX":11,"legendY":7,"direction":"horizontal","symbolSize":196,"symbolStrokeWidth":1.2,"labelFont":"Liberation Serif","labelFontSize":11,"labelFontStyle":"italic","labelOffset":5,"padding":0}}}}
  ]},
 {"encoding":{
   "x":{"field":"t","type":"quantitative","scale":{"domain":[6.97,7.63],"range":[35,107],"nice":false,"zero":false},"axis":{"title":null,"orient":"bottom","offset":-19,"values":[7,7.2,7.4,7.6],"format":".1f","labelFontSize":8}},
   "y":{"field":"e","type":"quantitative","scale":{"domain":[-0.1,0.1],"range":[94,65],"nice":false,"zero":false},"axis":{"title":null,"orient":"left","offset":-35,"values":[-0.1,0,0.1],"format":".1f","labelFontSize":8}}},
  "layer":[
   {"data":{"name":"fr"},"transform":[{"filter":"datum.p==2"}],"mark":{"type":"rect","fill":"#ffffff","stroke":"#000000","strokeWidth":0.8},"encoding":{"x":{"field":"x0","type":"quantitative"},"x2":{"field":"x1"},"y":{"field":"y0","type":"quantitative"},"y2":{"field":"y1"}}},
   {"data":{"name":"S"},"mark":{"type":"line","color":"#9a45ff","interpolate":"monotone","strokeWidth":1}}
  ]}
]},
{"width":142,"height":113,"resolve":{"scale":{"x":"independent","y":"independent"}},"layer":[
 {"encoding":{
   "x":{"field":"t","type":"quantitative","scale":{"domain":[0,10],"nice":false,"zero":false},"axis":{"title":"t/s","orient":"bottom","values":[0,1,2,3,4,5,6,7,8,9,10],"format":"d"}},
   "y":{"field":"v","type":"quantitative","scale":{"domain":[-70,10],"nice":false,"zero":false},"axis":{"title":"Phase Error/(°)","orient":"left","values":[-70,-60,-50,-40,-30,-20,-10,0,10],"format":"d"}}},
  "layer":[
   {"data":{"name":"p3"},"mark":{"type":"line","color":"#ff33ff","strokeWidth":1.2,"interpolate":"monotone"}},
   {"data":{"name":"hl"},"transform":[{"filter":"datum.p==3"}],"mark":{"type":"rect","fill":"#d8a4a4","stroke":"#e06060","strokeWidth":0.8,"opacity":0.85},"encoding":{"x":{"field":"x0","type":"quantitative"},"x2":{"field":"x1"},"y":{"field":"y0","type":"quantitative"},"y2":{"field":"y1"}}},
   {"data":{"values":[]},"mark":{"type":"point","filled":false},"encoding":{
     "color":{"field":"s","type":"nominal","scale":{"domain":["φ₂ − φ₁"],"range":["#ff33ff"]},"legend":{"title":null,"orient":"none","legendX":86,"legendY":21,"direction":"horizontal","symbolSize":196,"symbolStrokeWidth":1.2,"labelFont":"Liberation Serif","labelFontSize":11,"labelFontStyle":"italic","labelOffset":5,"padding":0}},
     "shape":{"field":"s","type":"nominal","scale":{"domain":["φ₂ − φ₁"],"range":["M-1,0L1,0"]},"legend":{"title":null,"orient":"none","legendX":86,"legendY":21,"direction":"horizontal","symbolSize":196,"symbolStrokeWidth":1.2,"labelFont":"Liberation Serif","labelFontSize":11,"labelFontStyle":"italic","labelOffset":5,"padding":0}}}}
  ]},
 {"encoding":{
   "x":{"field":"t","type":"quantitative","scale":{"domain":[6.97,7.63],"range":[31,115],"nice":false,"zero":false},"axis":{"title":null,"orient":"bottom","offset":-19,"values":[7,7.2,7.4,7.6],"format":".1f","labelFontSize":8}},
   "y":{"field":"f","type":"quantitative","scale":{"domain":[-0.1,0.1],"range":[94,50],"nice":false,"zero":false},"axis":{"title":null,"orient":"left","offset":-31,"values":[-0.1,-0.05,0,0.05,0.1],"format":".2f","labelFontSize":8}}},
  "layer":[
   {"data":{"name":"fr"},"transform":[{"filter":"datum.p==3"}],"mark":{"type":"rect","fill":"#ffffff","stroke":"#000000","strokeWidth":0.8},"encoding":{"x":{"field":"x0","type":"quantitative"},"x2":{"field":"x1"},"y":{"field":"y0","type":"quantitative"},"y2":{"field":"y1"}}},
   {"data":{"name":"S"},"mark":{"type":"line","color":"#ff33ff","interpolate":"monotone","strokeWidth":1}}
  ]}
]},
{"width":142,"height":113,"resolve":{"scale":{"x":"independent","y":"independent"}},"layer":[
 {"encoding":{
   "x":{"field":"t","type":"quantitative","scale":{"domain":[0,10],"nice":false,"zero":false},"axis":{"title":"t/s","orient":"bottom","values":[0,1,2,3,4,5,6,7,8,9,10],"format":"d"}},
   "y":{"field":"v","type":"quantitative","scale":{"domain":[-8,4],"nice":false,"zero":false},"axis":{"title":"x and y/mm","orient":"left","values":[-8,-6,-4,-2,0,2,4],"format":"d"}}},
  "layer":[
   {"data":{"name":"D"},"mark":{"type":"line","color":"#2a8a2a","strokeWidth":1},"encoding":{"y":{"field":"x","type":"quantitative"}}},
   {"data":{"name":"D"},"mark":{"type":"line","color":"#ff33ff","strokeWidth":1},"encoding":{"y":{"field":"y","type":"quantitative"}}},
   {"data":{"name":"m4"},"mark":{"type":"point","shape":"circle","size":10,"filled":true,"fill":"#ffffff","stroke":"#ff33ff","strokeWidth":0.8,"opacity":1}},
   {"data":{"name":"hl"},"transform":[{"filter":"datum.p==4"}],"mark":{"type":"rect","fill":"#c8c8c8","fillOpacity":0.6,"stroke":"#f0a0a0","strokeWidth":0.8},"encoding":{"x":{"field":"x0","type":"quantitative"},"x2":{"field":"x1"},"y":{"field":"y0","type":"quantitative"},"y2":{"field":"y1"}}},
   {"data":{"values":[]},"mark":{"type":"point","filled":false},"encoding":{
     "color":{"field":"s","type":"nominal","scale":{"domain":["x","y"],"range":["#2a8a2a","#ff33ff"]},"legend":{"title":null,"orient":"none","legendX":25,"legendY":3,"direction":"horizontal","symbolSize":196,"symbolStrokeWidth":1.2,"labelFont":"Liberation Serif","labelFontSize":11,"labelFontStyle":"italic","labelOffset":8,"columnPadding":20,"padding":0}},
     "shape":{"field":"s","type":"nominal","scale":{"domain":["x","y"],"range":["M-1,0L1,0","M-1,0L-0.3,0M0.3,0A0.3,0.3 0 1 1 -0.3,0A0.3,0.3 0 1 1 0.3,0M0.3,0L1,0"]},"legend":{"title":null,"orient":"none","legendX":25,"legendY":3,"direction":"horizontal","symbolSize":196,"symbolStrokeWidth":1.2,"labelFont":"Liberation Serif","labelFontSize":11,"labelFontStyle":"italic","labelOffset":8,"columnPadding":20,"padding":0}}}}
  ]},
 {"encoding":{
   "x":{"field":"t","type":"quantitative","scale":{"domain":[6.97,7.63],"range":[27,115],"nice":false,"zero":false},"axis":{"title":null,"orient":"bottom","offset":-14,"values":[7,7.2,7.4,7.6],"format":".1f","labelFontSize":8}},
   "y":{"field":"g","type":"quantitative","scale":{"domain":[-3,3],"range":[99,57],"nice":false,"zero":false},"axis":{"title":null,"orient":"left","offset":-27,"values":[-3,-2,-1,0,1,2,3],"format":"d","labelFontSize":7}}},
  "layer":[
   {"data":{"name":"fr"},"transform":[{"filter":"datum.p==4"}],"mark":{"type":"rect","fill":"#ffffff","stroke":"#000000","strokeWidth":0.8},"encoding":{"x":{"field":"x0","type":"quantitative"},"x2":{"field":"x1"},"y":{"field":"y0","type":"quantitative"},"y2":{"field":"y1"}}},
   {"data":{"name":"i4"},"mark":{"type":"line","color":"#2a8a2a","interpolate":"monotone","strokeWidth":1}},
   {"data":{"name":"i4"},"mark":{"type":"line","color":"#ff33ff","interpolate":"monotone","strokeWidth":1},"encoding":{"y":{"field":"m","type":"quantitative"}}},
   {"data":{"name":"i4"},"mark":{"type":"point","shape":"circle","size":12,"filled":true,"fill":"#ffffff","stroke":"#ff33ff","strokeWidth":0.8,"opacity":1},"encoding":{"y":{"field":"n","type":"quantitative"}}}
  ]}
]},
{"width":142,"height":113,"data":{"name":"D"},"mark":{"type":"line","color":"#2a8a2a","strokeWidth":1},"encoding":{
   "x":{"field":"t","type":"quantitative","scale":{"domain":[0,10],"nice":false,"zero":false},"axis":{"title":"t/s","orient":"bottom","values":[0,1,2,3,4,5,6,7,8,9,10],"format":"d"}},
   "y":{"field":"p","type":"quantitative","scale":{"domain":[-0.4,0.4],"nice":false,"zero":false},"axis":{"title":"ψ / (°)","titleFontStyle":"normal","orient":"left","values":[-0.4,-0.3,-0.2,-0.1,0,0.1,0.2,0.3,0.4],"format":".1f"}}}},
{"width":142,"height":113,"resolve":{"scale":{"x":"independent","y":"independent"}},"layer":[
 {"encoding":{
   "x":{"field":"t","type":"quantitative","scale":{"domain":[0,10],"nice":false,"zero":false},"axis":{"title":"t/s","orient":"bottom","values":[0,1,2,3,4,5,6,7,8,9,10],"format":"d"}},
   "y":{"field":"a","type":"quantitative","scale":{"domain":[-2,1.5],"nice":false,"zero":false},"axis":{"title":"Load Torque/(Nm)","orient":"left","values":[-2,-1.5,-1,-0.5,0,0.5,1,1.5],"format":".1f"}}},
  "layer":[
   {"data":{"name":"D"},"mark":{"type":"line","color":"#ff33ff","strokeWidth":1}},
   {"data":{"name":"D"},"mark":{"type":"line","color":"#2a8a2a","strokeWidth":1,"strokeDash":[3,1.5]},"encoding":{"y":{"field":"b","type":"quantitative"}}},
   {"data":{"name":"m6"},"mark":{"type":"point","shape":"circle","size":10,"filled":true,"fill":"#ffffff","stroke":"#ff33ff","strokeWidth":0.8,"opacity":1}},
   {"data":{"name":"m6"},"mark":{"type":"point","shape":"circle","size":10,"filled":true,"fill":"#ffffff","stroke":"#2a8a2a","strokeWidth":0.8,"opacity":1},"encoding":{"y":{"field":"b","type":"quantitative"}}},
   {"data":{"name":"hl"},"transform":[{"filter":"datum.p==6"}],"mark":{"type":"rect","fill":"#c8c8c8","fillOpacity":0.6,"stroke":"#f0a0a0","strokeWidth":0.8},"encoding":{"x":{"field":"x0","type":"quantitative"},"x2":{"field":"x1"},"y":{"field":"y0","type":"quantitative"},"y2":{"field":"y1"}}},
   {"data":{"values":[]},"mark":{"type":"point","filled":false},"encoding":{
     "color":{"field":"s","type":"nominal","scale":{"domain":["Tₗ₁","Tₗ₂"],"range":["#ff33ff","#2a8a2a"]},"legend":{"title":null,"orient":"none","legendX":21,"legendY":11,"direction":"horizontal","symbolSize":196,"symbolStrokeWidth":1.2,"labelFont":"Liberation Serif","labelFontSize":11,"labelFontStyle":"italic","labelOffset":6,"columnPadding":20,"padding":0}},
     "shape":{"field":"s","type":"nominal","scale":{"domain":["Tₗ₁","Tₗ₂"],"range":["M-1,0L-0.3,0M0.3,0A0.3,0.3 0 1 1 -0.3,0A0.3,0.3 0 1 1 0.3,0M0.3,0L1,0","M-1,0L-0.8,0M-0.65,0L-0.45,0M0.3,0A0.3,0.3 0 1 1 -0.3,0A0.3,0.3 0 1 1 0.3,0M0.45,0L0.65,0M0.8,0L1,0"]},"legend":{"title":null,"orient":"none","legendX":21,"legendY":11,"direction":"horizontal","symbolSize":196,"symbolStrokeWidth":1.2,"labelFont":"Liberation Serif","labelFontSize":11,"labelFontStyle":"italic","labelOffset":6,"columnPadding":20,"padding":0}}}}
  ]},
 {"encoding":{
   "x":{"field":"t","type":"quantitative","scale":{"domain":[6.97,7.63],"range":[18,112],"nice":false,"zero":false},"axis":{"title":null,"orient":"bottom","offset":-10,"values":[7,7.2,7.4,7.6],"format":".1f","labelFontSize":8}},
   "y":{"field":"v","type":"quantitative","scale":{"domain":[-0.4,0.6],"range":[103,72],"nice":false,"zero":false},"axis":{"title":null,"orient":"left","offset":-18,"values":[-0.4,-0.2,0,0.2,0.4,0.6],"format":".1f","labelFontSize":6.5}}},
  "layer":[
   {"data":{"name":"fr"},"transform":[{"filter":"datum.p==6"}],"mark":{"type":"rect","fill":"#ffffff","stroke":"#000000","strokeWidth":0.8},"encoding":{"x":{"field":"x0","type":"quantitative"},"x2":{"field":"x1"},"y":{"field":"y0","type":"quantitative"},"y2":{"field":"y1"}}},
   {"data":{"name":"i6a"},"mark":{"type":"line","color":"#ff33ff","interpolate":"monotone","strokeWidth":1}},
   {"data":{"name":"i6b"},"mark":{"type":"line","color":"#2a8a2a","interpolate":"monotone","strokeWidth":1}},
   {"data":{"name":"i6a"},"mark":{"type":"point","shape":"circle","size":10,"filled":true,"fill":"#ffffff","stroke":"#ff33ff","strokeWidth":0.7,"opacity":1}},
   {"data":{"name":"i6b"},"mark":{"type":"point","shape":"circle","size":10,"filled":true,"fill":"#ffffff","stroke":"#2a8a2a","strokeWidth":0.7,"opacity":1}}
  ]}
]},
{"width":142,"height":113,"resolve":{"scale":{"x":"independent","y":"independent"}},"layer":[
 {"encoding":{
   "x":{"field":"t","type":"quantitative","scale":{"domain":[0,10],"nice":false,"zero":false},"axis":{"title":"t/s","orient":"bottom","values":[0,1,2,3,4,5,6,7,8,9,10],"format":"d"}},
   "y":{"field":"c","type":"quantitative","scale":{"domain":[-2,8],"nice":false,"zero":false},"axis":{"title":"Electromagnetic Torque/(Nm)","orient":"left","values":[-2,-1,0,1,2,3,4,5,6,7,8],"format":"d"}}},
  "layer":[
   {"data":{"name":"D"},"mark":{"type":"line","color":"#b050e8","strokeWidth":1}},
   {"data":{"name":"D"},"mark":{"type":"line","color":"#2a8a2a","strokeWidth":1},"encoding":{"y":{"field":"d","type":"quantitative"}}},
   {"data":{"name":"m7"},"mark":{"type":"point","shape":"circle","size":10,"filled":true,"fill":"#ffffff","stroke":"#b050e8","strokeWidth":0.8,"opacity":1},"encoding":{"y":{"field":"a","type":"quantitative"}}},
   {"data":{"name":"m7"},"mark":{"type":"point","shape":"circle","size":10,"filled":true,"fill":"#ffffff","stroke":"#2a8a2a","strokeWidth":0.8,"opacity":1},"encoding":{"y":{"field":"b","type":"quantitative"}}},
   {"data":{"name":"hl"},"transform":[{"filter":"datum.p==7"}],"mark":{"type":"rect","fill":"#c8c8c8","fillOpacity":0.6,"stroke":"#f0a0a0","strokeWidth":0.8},"encoding":{"x":{"field":"x0","type":"quantitative"},"x2":{"field":"x1"},"y":{"field":"y0","type":"quantitative"},"y2":{"field":"y1"}}},
   {"data":{"values":[]},"mark":{"type":"point","filled":false},"encoding":{
     "color":{"field":"s","type":"nominal","scale":{"domain":["Tₑ₁","Tₑ₂"],"range":["#b050e8","#2a8a2a"]},"legend":{"title":null,"orient":"none","legendX":35,"legendY":9,"direction":"horizontal","symbolSize":196,"symbolStrokeWidth":1.2,"labelFont":"Liberation Serif","labelFontSize":11,"labelFontStyle":"italic","labelOffset":6,"columnPadding":16,"padding":0}},
     "shape":{"field":"s","type":"nominal","scale":{"domain":["Tₑ₁","Tₑ₂"],"range":["M-1,0L-0.3,0M0.3,0A0.3,0.3 0 1 1 -0.3,0A0.3,0.3 0 1 1 0.3,0M0.3,0L1,0","M-1,0L-0.3,0M0.3,0A0.3,0.3 0 1 1 -0.3,0A0.3,0.3 0 1 1 0.3,0M0.3,0L1,0"]},"legend":{"title":null,"orient":"none","legendX":35,"legendY":9,"direction":"horizontal","symbolSize":196,"symbolStrokeWidth":1.2,"labelFont":"Liberation Serif","labelFontSize":11,"labelFontStyle":"italic","labelOffset":6,"columnPadding":16,"padding":0}}}}
  ]},
 {"encoding":{
   "x":{"field":"t","type":"quantitative","scale":{"domain":[7,8],"range":[21,116],"nice":false,"zero":false},"axis":{"title":null,"orient":"bottom","offset":-45,"values":[7,7.2,7.4,7.6,7.8,8],"format":".1f","labelFontSize":8}},
   "y":{"field":"v","type":"quantitative","scale":{"domain":[-0.4,1.2],"range":[68,25],"nice":false,"zero":false},"axis":{"title":null,"orient":"left","offset":-21,"values":[-0.4,0,0.4,0.8,1.2],"format":".1f","labelFontSize":8}}},
  "layer":[
   {"data":{"name":"fr"},"transform":[{"filter":"datum.p==7"}],"mark":{"type":"rect","fill":"#ffffff","stroke":"#000000","strokeWidth":0.8},"encoding":{"x":{"field":"x0","type":"quantitative"},"x2":{"field":"x1"},"y":{"field":"y0","type":"quantitative"},"y2":{"field":"y1"}}},
   {"data":{"name":"i7a"},"mark":{"type":"line","color":"#b050e8","interpolate":"monotone","strokeWidth":1}},
   {"data":{"name":"i7b"},"mark":{"type":"line","color":"#2a8a2a","interpolate":"monotone","strokeWidth":1}},
   {"data":{"name":"i7a"},"mark":{"type":"point","shape":"circle","size":9,"filled":true,"fill":"#ffffff","stroke":"#b050e8","strokeWidth":0.7,"opacity":1}},
   {"data":{"name":"i7b"},"mark":{"type":"point","shape":"circle","size":9,"filled":true,"fill":"#ffffff","stroke":"#2a8a2a","strokeWidth":0.7,"opacity":1}}
  ]}
]},
{"width":142,"height":113,"data":{"name":"c8"},"mark":{"type":"line","color":"#2a8a2a","interpolate":"cardinal-closed","strokeWidth":1.2},"encoding":{
   "x":{"field":"x","type":"quantitative","scale":{"domain":[-3,3],"nice":false,"zero":false},"axis":{"title":"x/mm","orient":"bottom","values":[-3,-2,-1,0,1,2,3],"format":"d"}},
   "y":{"field":"y","type":"quantitative","scale":{"domain":[-3,3],"nice":false,"zero":false},"axis":{"title":"y/mm","orient":"left","values":[-3,-2,-1,0,1,2,3],"format":"d"}},
   "order":{"field":"o","type":"quantitative"}}}
],
"config": {
  "font": "Liberation Serif",
  "view": {"stroke": "#000000", "strokeWidth": 1},
  "locale": {"number": {"decimal": ".", "thousands": ",", "grouping": [3], "currency": ["", ""], "minus": "-"}},
  "axis": {"grid": false, "domain": false, "ticks": true, "tickSize": -3, "tickColor": "#000000", "labelPadding": 2, "labelFont": "Liberation Serif", "labelFontSize": 10, "labelColor": "#000000", "labelFlush": false, "labelOverlap": false, "titleFont": "Liberation Serif", "titleFontSize": 10.5, "titleFontWeight": "normal", "titleColor": "#000000", "titlePadding": 0, "zindex": 1},
  "axisY": {"titleFontStyle": "italic"}
}
}
